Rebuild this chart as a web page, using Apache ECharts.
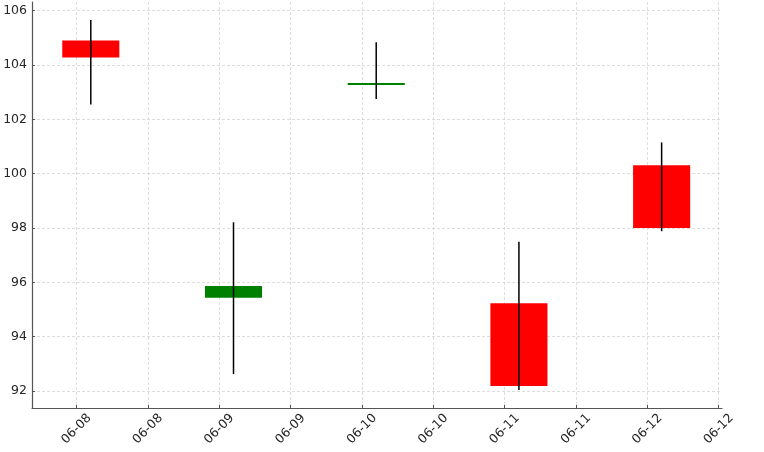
<!DOCTYPE html>
<html>
<head>
<meta charset="utf-8">
<script src="https://cdn.jsdelivr.net/npm/echarts@6/dist/echarts.min.js"></script>
<style>
    html, body { margin: 0; padding: 0; background: #fff; }
    #chart { width: 764px; height: 452px; }
</style>
</head>
<body>
<div id="chart"></div>
<script>
    // 数据
    var dates = ['06-08', '06-09', '06-10', '06-11', '06-12'];
    var openVals = [104.90, 95.43, 103.27, 95.23, 100.31];
    var closeVals = [104.28, 95.86, 103.34, 92.18, 98.00];
    var highVals = [105.66, 98.21, 104.84, 97.49, 101.15];
    var lowVals = [102.55, 92.62, 102.75, 92.03, 97.88];
    // 刻度
    var xTicks = [0, 0.5, 1, 1.5, 2, 2.5, 3, 3.5, 4, 4.5];
    var xTickLabels = ['06-08', '06-08', '06-09', '06-09', '06-10', '06-10', '06-11', '06-11', '06-12', '06-12'];
    var yTicks = [92, 94, 96, 98, 100, 102, 104, 106];

    var rows = dates.map(function (d, i) {
        return [i, openVals[i], closeVals[i], highVals[i], lowVals[i]];
    });

    var axisColor = '#555';
    var textColor = '#262626';
    var gridStyle = { color: '#d4d4d4', width: 0.8, type: [3, 2] };

    function renderCandle(params, api) {
        var x = api.value(0);
        var o = api.value(1);
        var c = api.value(2);
        var h = api.value(3);
        var l = api.value(4);
        var left = api.coord([x - 0.1, Math.max(o, c)]);
        var right = api.coord([x + 0.3, Math.min(o, c)]);
        var top = api.coord([x + 0.1, h]);
        var bottom = api.coord([x + 0.1, l]);
        var color = c >= o ? '#008000' : '#ff0000';
        return {
            type: 'group',
            children: [{
                type: 'rect',
                shape: {
                    x: left[0],
                    y: left[1],
                    width: right[0] - left[0],
                    height: Math.max(right[1] - left[1], 2)
                },
                style: { fill: color }
            }, {
                type: 'line',
                shape: { x1: top[0], y1: top[1], x2: bottom[0], y2: bottom[1] },
                style: { stroke: '#000', lineWidth: 1.5 }
            }]
        };
    }

    var myChart = echarts.init(document.getElementById('chart'));
    myChart.setOption({
        animation: false,
        grid: { left: 32, right: 42, top: 2, bottom: 44 },
        xAxis: {
            type: 'value',
            min: -0.312,
            max: 4.523,
            axisLine: { show: true, onZero: false, lineStyle: { color: axisColor, width: 1.2 } },
            axisTick: { show: true, inside: true, length: 3, customValues: xTicks, lineStyle: { color: axisColor } },
            axisLabel: {
                customValues: xTicks,
                rotate: 45,
                align: 'center',
                verticalAlign: 'middle',
                margin: 21,
                color: textColor,
                fontFamily: 'DejaVu Sans',
                fontSize: 12.5,
                formatter: function (v) {
                    var idx = xTicks.indexOf(Math.round(v * 2) / 2);
                    return idx >= 0 ? xTickLabels[idx] : '';
                }
            },
            splitLine: { show: true, lineStyle: gridStyle }
        },
        yAxis: {
            type: 'value',
            min: 91.37,
            max: 106.32,
            axisLine: { show: true, onZero: false, lineStyle: { color: axisColor, width: 1.2 } },
            axisTick: { show: true, inside: true, length: 3, customValues: yTicks, lineStyle: { color: axisColor } },
            axisLabel: {
                customValues: yTicks,
                margin: 5,
                color: textColor,
                fontFamily: 'DejaVu Sans',
                fontSize: 12.5
            },
            splitLine: { show: true, lineStyle: gridStyle }
        },
        series: [{
            type: 'custom',
            renderItem: renderCandle,
            encode: { x: 0, y: [1, 2, 3, 4] },
            data: rows
        }]
    });
    window.addEventListener('resize', function () {
        myChart.resize();
    });
</script>
</body>
</html>
